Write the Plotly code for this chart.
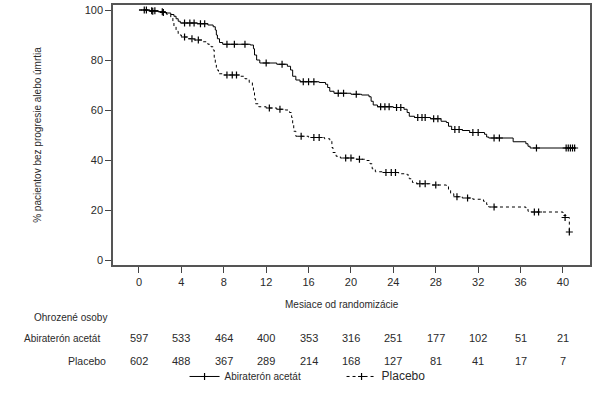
import plotly.graph_objects as go

# ---------------- data ----------------
abi_t = [0, 1.0, 1.8, 2.5, 3.0, 3.3, 3.5, 3.7, 3.9, 5.5, 6.5, 7.0, 7.2, 7.3, 7.4, 7.6, 7.9,
         10.5, 10.8, 10.9, 11.1, 11.4, 13.0, 14.0, 14.3, 14.5, 14.8, 15.2, 17.0, 17.6, 17.8,
         18.0, 18.4, 20.0, 21.0, 21.7, 21.9, 22.1, 22.5, 24.0, 25.0, 25.3, 25.5, 26.0, 27.5,
         28.5, 29.0, 29.2, 29.5, 30.5, 31.2, 32.6, 32.8, 33.0, 35.3, 36.5, 36.7, 36.9, 41.2]
abi_s = [100, 99.7, 99.3, 98.8, 98.2, 97.5, 96.5, 95.5, 94.8, 94.5, 94.0, 93.3, 92, 90, 88.5, 87, 86.3,
         86, 84.5, 82, 80, 78.8, 78.3, 77.5, 76, 73.5, 72, 71.3, 71, 70.3, 69,
         67.5, 66.7, 66.3, 66, 65.3, 63.5, 62, 61.3, 61, 60.3, 59, 57.5, 57, 56.5,
         55.5, 55, 53.5, 52.2, 51.8, 51, 50.3, 49.2, 48.8, 47.3, 46.5, 45.5, 44.8, 44.8]

abi_cens_t = [0.5, 1.2, 1.5, 2.2, 4.3, 4.8, 5.2, 5.8, 6.2, 8.3, 9.0, 10.0, 12.0, 13.5, 15.5, 16.0,
              16.5, 18.8, 19.3, 20.5, 22.8, 23.2, 23.6, 24.3, 24.7, 26.3, 26.7, 27.0, 27.8, 28.2,
              29.8, 30.2, 31.5, 32.0, 33.5, 34.0, 37.5, 40.3, 40.5, 40.7, 40.9, 41.1]
abi_cens_s = [100, 99.7, 99.7, 99.3, 94.8, 94.8, 94.8, 94.5, 94.5, 86.3, 86.3, 86.3, 78.8, 78.3, 71.3, 71.3,
              71.3, 66.7, 66.7, 66.3, 61.3, 61.3, 61.3, 61, 61, 57, 57, 57, 56.5, 56.5,
              52.2, 52.2, 51, 51, 48.8, 48.8, 44.8, 44.8, 44.8, 44.8, 44.8, 44.8]

pla_t = [0, 1.0, 2.0, 2.6, 3.0, 3.2, 3.3, 3.5, 3.7, 4.0, 4.6, 5.2, 6.0, 6.5, 6.8, 7.0, 7.1, 7.2,
         7.3, 7.5, 8.0, 9.5, 10.0, 10.4, 10.7, 10.8, 10.9, 11.0, 11.3, 12.0, 13.0, 13.8, 14.2,
         14.4, 14.5, 14.6, 14.8, 16.0, 17.5, 18.0, 18.2, 18.3, 18.6, 19.0, 20.5, 21.5, 21.8,
         22.0, 22.3, 23.0, 24.5, 25.3, 25.5, 25.8, 26.2, 27.5, 29.0, 29.2, 29.4, 29.7, 30.5,
         31.5, 32.5, 32.8, 33.0, 36.5, 36.7, 37.0, 40.0, 40.3, 40.6]
pla_s = [100, 99.5, 99, 98.3, 97.2, 95.5, 93.5, 91.5, 90, 89.2, 88.5, 88, 87.3, 86.3, 85.3, 84, 81, 78,
         76, 74.5, 74, 73.5, 72.5, 71, 69, 67, 64.5, 62.5, 61.3, 60.8, 60.3, 60, 59,
         57, 54, 51.5, 49.5, 49, 48.5, 47.5, 45, 43, 41.5, 40.8, 40.3, 39.8, 38.5,
         36.5, 35.3, 35, 34.5, 34, 32.5, 31, 30.5, 30, 29.5, 28, 26.5, 25.3, 24.8,
         24.3, 23.5, 22.2, 21.2, 20.5, 19.5, 19.2, 17.8, 17, 11.2]

pla_cens_t = [0.7, 1.3, 2.3, 4.3, 5.0, 5.6, 8.3, 8.8, 9.2, 12.3, 13.3, 15.3, 16.5, 17.0, 19.5, 20.0,
              20.8, 23.3, 23.8, 24.2, 26.5, 27.0, 28.0, 30.0, 31.0, 33.5, 37.3, 37.7, 40.2, 40.6]
pla_cens_s = [100, 99.5, 99, 89.2, 88.5, 88, 74, 74, 74, 60.8, 60.3, 49.5, 49, 49, 40.8, 40.8,
              40.3, 35, 35, 35, 30.5, 30.5, 30, 25.3, 24.8, 21.2, 19.2, 19.2, 17, 11.2]

tick_months = [0, 4, 8, 12, 16, 20, 24, 28, 32, 36, 40]
risk_abi = [597, 533, 464, 400, 353, 316, 251, 177, 102, 51, 21]
risk_pla = [602, 488, 367, 289, 214, 168, 127, 81, 41, 17, 7]
y_ticks = [0, 20, 40, 60, 80, 100]

name_abi = "Abiraterón acetát"
name_pla = "Placebo"
x_title = "Mesiace od randomizácie"
y_title = "% pacientov bez progresie alebo úmrtia"
risk_title = "Ohrozené osoby"

# ---------------- figure ----------------
FONT = "Liberation Sans, Arial, sans-serif"
TXT = "#2a2a2a"
MK = dict(symbol="cross-thin-open", size=5, color="black", line=dict(color="black", width=1.2))
fig = go.Figure()

fig.add_trace(go.Scatter(x=abi_t, y=abi_s, mode="lines", line=dict(color="black", width=1, shape="hv"),
                         showlegend=False, hoverinfo="skip"))
fig.add_trace(go.Scatter(x=abi_cens_t, y=abi_cens_s, mode="markers", marker=MK, showlegend=False))
fig.add_trace(go.Scatter(x=pla_t, y=pla_s, mode="lines",
                         line=dict(color="black", width=1, shape="hv", dash="3px,3px"),
                         showlegend=False, hoverinfo="skip"))
fig.add_trace(go.Scatter(x=pla_cens_t, y=pla_cens_s, mode="markers", marker=MK, showlegend=False))

# legend entries
fig.add_trace(go.Scatter(x=[None], y=[None], mode="lines+markers", name=name_abi,
                         line=dict(color="black", width=1), marker=MK))
fig.add_trace(go.Scatter(x=[None], y=[None], mode="lines+markers",
                         name='<span style="font-size:12px">' + name_pla + "</span>",
                         line=dict(color="black", width=1, dash="3px,3px"), marker=MK))

annotations = []
for t, a, p in zip(tick_months, risk_abi, risk_pla):
    annotations.append(dict(x=t, xref="x", y=-0.281, yref="paper", text=str(a), showarrow=False,
                            xanchor="center", yanchor="middle", font=dict(size=11, color=TXT, family=FONT)))
    annotations.append(dict(x=t, xref="x", y=-0.369, yref="paper", text=str(p), showarrow=False,
                            xanchor="center", yanchor="middle", font=dict(size=11, color=TXT, family=FONT)))

annotations += [
    dict(x=-0.023, xref="paper", y=-0.281, yref="paper", text=name_abi, showarrow=False,
         xanchor="right", yanchor="middle", font=dict(size=10, color=TXT, family=FONT)),
    dict(x=-0.0105, xref="paper", y=-0.369, yref="paper", text=name_pla, showarrow=False,
         xanchor="right", yanchor="middle", font=dict(size=10.5, color=TXT, family=FONT)),
    dict(x=-0.09, xref="paper", y=-0.2, yref="paper", text=risk_title, showarrow=False,
         xanchor="center", yanchor="middle", font=dict(size=10, color=TXT, family=FONT)),
    dict(x=0.48, xref="paper", y=-0.15, yref="paper", text=x_title, showarrow=False,
         xanchor="center", yanchor="middle", font=dict(size=10, color=TXT, family=FONT)),
]

fig.update_layout(
    width=601, height=393,
    margin=dict(l=113, r=11, t=5, b=128, autoexpand=False),
    paper_bgcolor="white", plot_bgcolor="white",
    font=dict(family=FONT, color=TXT, size=11),
    showlegend=True,
    legend=dict(orientation="h", x=0.15, xanchor="left", y=-0.373, yanchor="top",
                font=dict(size=10, color=TXT, family=FONT), bgcolor="rgba(0,0,0,0)",
                entrywidth=112, entrywidthmode="pixels", itemwidth=30, tracegroupgap=0),
    annotations=annotations,
)
fig.update_xaxes(range=[-2.45, 42.55], tickmode="array", tickvals=tick_months, automargin=False,
                 ticks="outside", ticklen=6, tickwidth=1, tickcolor="#444",
                 showline=True, linecolor="#555", linewidth=1.5, mirror=True,
                 showgrid=False, zeroline=False, tickfont=dict(size=11, color=TXT))
fig.update_yaxes(range=[-2, 102], tickmode="array", tickvals=y_ticks, automargin=False,
                 ticks="outside", ticklen=6, tickwidth=1, tickcolor="#444",
                 showline=True, linecolor="#555", linewidth=1.5, mirror=True,
                 showgrid=False, zeroline=False, tickfont=dict(size=11, color=TXT),
                 title=dict(text=y_title, font=dict(size=10, color=TXT), standoff=41))

fig.write_html("out.html", config={"displayModeBar": False},
               post_script="document.body.style.margin='0';")
